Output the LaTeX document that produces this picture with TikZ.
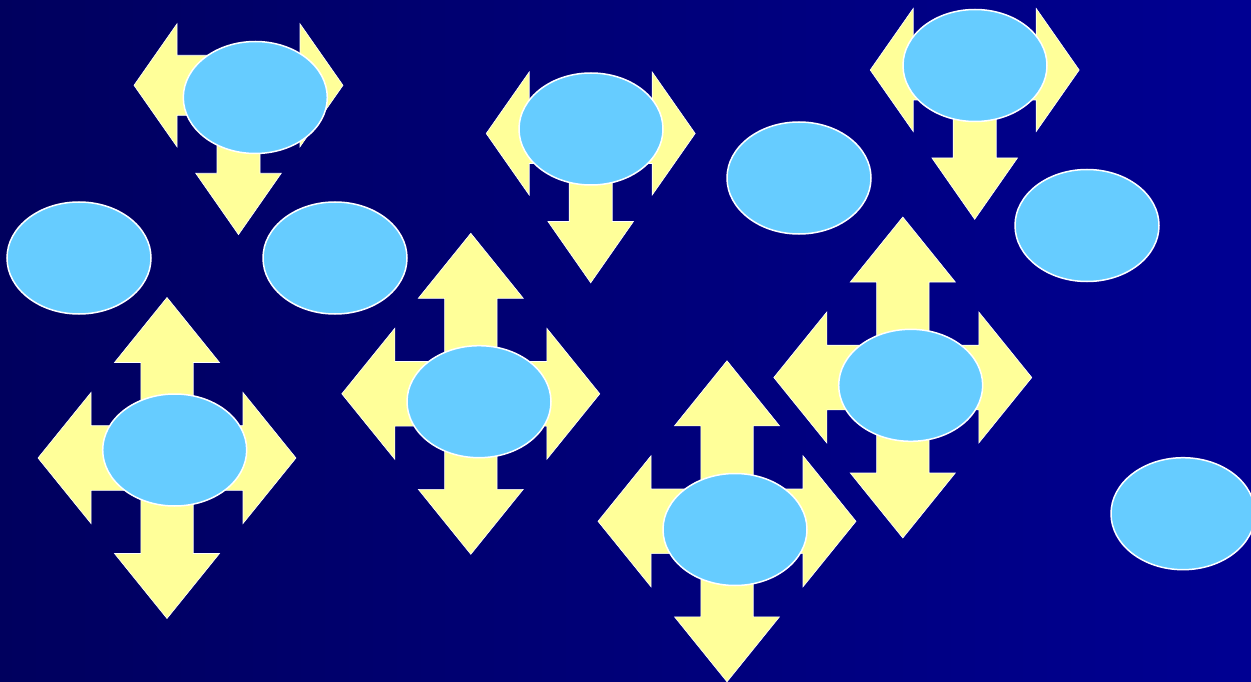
\documentclass[tikz,border=0pt]{standalone}
\usetikzlibrary{shapes.geometric}
\definecolor{bgL}{RGB}{0,0,94}
\definecolor{bgR}{RGB}{0,0,146}
\definecolor{arrowyellow}{RGB}{255,255,153}
\definecolor{ellblue}{RGB}{102,204,255}
\tikzset{
  arrowshape/.style={fill=arrowyellow, draw=white, line width=0.6pt, line join=miter},
  ell/.style={ellipse, fill=ellblue, draw=white, line width=1.5pt, minimum width=144pt, minimum height=112pt, inner sep=0pt}
}
\newcommand{\quadarrow}[1]{%
  \path[arrowshape, shift={#1}]
    (0,-160.5) -- (52.5,-95.5) -- (26.2,-95.5) -- (26.2,-32.3) -- (76,-32.3) -- (76,-65.5)
    -- (129,0) -- (76,65.5) -- (76,32.3) -- (26.2,32.3) -- (26.2,95.5) -- (52.5,95.5)
    -- (0,160.5) -- (-52.5,95.5) -- (-26.2,95.5) -- (-26.2,32.3) -- (-76,32.3) -- (-76,65.5)
    -- (-129,0) -- (-76,-65.5) -- (-76,-32.3) -- (-26.2,-32.3) -- (-26.2,-95.5) -- (-52.5,-95.5) -- cycle;}
\newcommand{\triarrow}[1]{%
  \path[arrowshape, shift={#1}]
    (-104.5,0) -- (-61.5,-61.5) -- (-61.5,-30) -- (61.5,-30) -- (61.5,-61.5) -- (104.5,0)
    -- (61.5,61.5) -- (61.5,30) -- (21.5,30) -- (21.5,88) -- (42.75,88) -- (0,149.3)
    -- (-42.75,88) -- (-21.5,88) -- (-21.5,30) -- (-61.5,30) -- (-61.5,61.5) -- cycle;}
\begin{document}
\begin{tikzpicture}[x=1pt,y=-1pt]
\useasboundingbox (0,0) rectangle (1251,682);
\shade[left color=bgL, right color=bgR] (0,0) rectangle (1251,682);
% three-way arrows
\triarrow{(238.5,85.3)}
\triarrow{(590.7,133.5)}
\triarrow{(974.7,70)}
% four-way arrows
\quadarrow{(167,458)}
\quadarrow{(470.8,393.8)}
\quadarrow{(727,521.3)}
\quadarrow{(902.8,377.5)}
% ellipses
\node[ell] (e1) at (255.3,97.5) {};
\node[ell] (e2) at (591,129) {};
\node[ell] (e3) at (975,65.5) {};
\node[ell] (e4) at (79,258) {};
\node[ell] (e5) at (335,258) {};
\node[ell] (e6) at (799,178) {};
\node[ell] (e7) at (1087,225.5) {};
\node[ell] (e8) at (174.7,450) {};
\node[ell] (e9) at (479,401.7) {};
\node[ell] (e10) at (735,529.5) {};
\node[ell] (e11) at (910.7,385.3) {};
\node[ell] (e12) at (1183,513.7) {};
\end{tikzpicture}
\end{document}
